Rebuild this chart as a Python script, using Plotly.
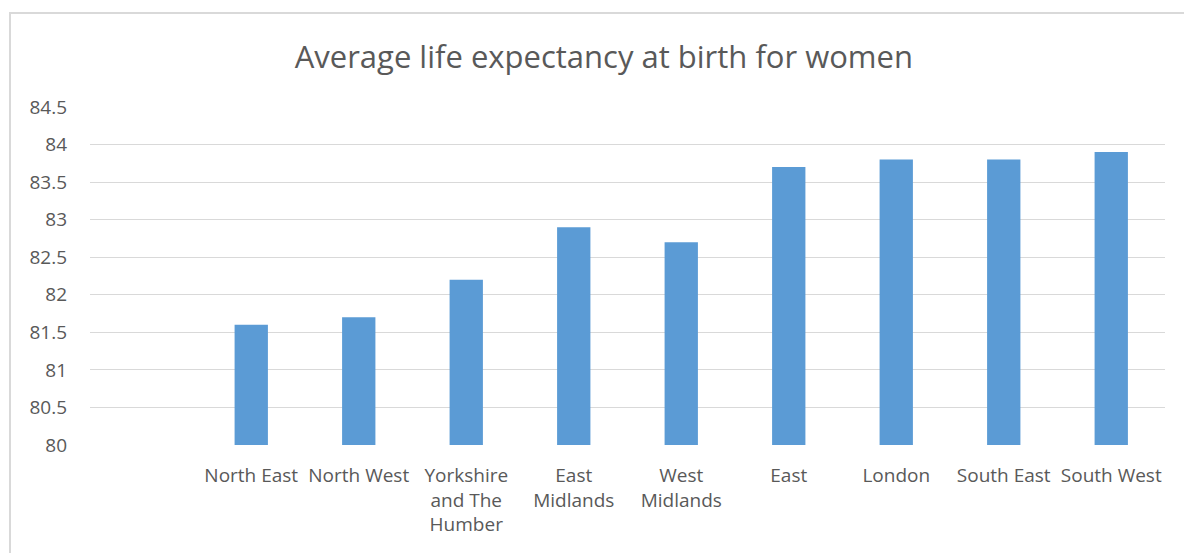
import plotly.graph_objects as go

categories = [" ", "North East", "North West", "Yorkshire<br>and The<br>Humber", "East<br>Midlands",
              "West<br>Midlands", "East", "London", "South East", "South West"]
values = [None, 81.6, 81.7, 82.2, 82.9, 82.7, 83.7, 83.8, 83.8, 83.9]
y_ticks = [80, 80.5, 81, 81.5, 82, 82.5, 83, 83.5, 84, 84.5]
y_ticktext = ["80", "80.5", "81", "81.5", "82", "82.5", "83", "83.5", "84", "84.5"]

FONT = "Open Sans"
GREY = "#595959"

L, R, T, B = 90, 19, 107, 108
PW = 1184 - L - R
PH = 553 - T - B

fig = go.Figure(go.Bar(x=categories, y=values, marker=dict(color="#5b9bd5", line=dict(width=0)),
                       width=0.31))

fig.update_layout(
    width=1184, height=553,
    margin=dict(l=L, r=R, t=T, b=B),
    paper_bgcolor="white", plot_bgcolor="white",
    showlegend=False,
    title=dict(text="Average life expectancy at birth for women", x=0.51, xref="container",
               xanchor="center", y=1 - 57 / 553, yref="container", yanchor="middle",
               font=dict(family=FONT, size=31, color=GREY)),
    xaxis=dict(type="category", categoryorder="array", categoryarray=categories,
               range=[-0.5, 9.5], showgrid=False, zeroline=False, showline=False,
               ticks="", ticklabelstandoff=17,
               tickfont=dict(family=FONT, size=19, color=GREY), tickangle=0),
    yaxis=dict(range=[80, 84.5], tickvals=y_ticks, ticktext=y_ticktext, showgrid=True,
               gridcolor="#d9d9d9", gridwidth=1, zeroline=False, showline=False, ticks="",
               ticklabelstandoff=22,
               tickfont=dict(family=FONT, size=19, color=GREY)),
    shapes=[dict(type="rect", xref="paper", yref="paper", x0=(10 - L) / PW, x1=(1190 - L) / PW,
                 y0=(445 - 560) / PH, y1=(445 - 13) / PH, line=dict(color="#d9d9d9", width=2),
                 fillcolor="rgba(0,0,0,0)", layer="below")],
)

fig.write_html("out.html")
